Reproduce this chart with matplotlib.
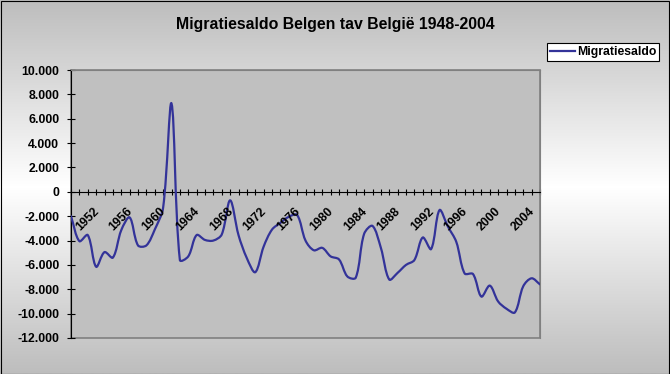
import matplotlib.pyplot as plt
import numpy as np
from matplotlib.path import Path
from matplotlib.patches import PathPatch, Rectangle
from matplotlib.lines import Line2D
from matplotlib.colors import LinearSegmentedColormap
from matplotlib.transforms import ScaledTranslation

plt.rcParams['font.family'] = ['Liberation Sans', 'DejaVu Sans']
plt.rcParams['font.weight'] = 'bold'

title = 'Migratiesaldo Belgen tav België 1948-2004'
series_name = 'Migratiesaldo'

# one value per year
years = list(range(1948, 2005))
saldo = [-2000, -4050, -3550, -6150, -4950, -5400, -3150, -2100, -4400, -4400,
         -3100, -1300, 7250, -5600, -5300, -3550, -3950, -4000, -3500, -700,
         -3550, -5450, -6600, -4500, -3100, -2550, -2050, -1900, -4000, -4800,
         -4600, -5300, -5550, -6950, -7050, -3450, -2800, -4600, -7200, -6650,
         -6000, -5600, -3750, -4700, -1500, -2850, -4100, -6700, -6750, -8600,
         -7700, -9000, -9600, -9900, -7750, -7100, -7600]

year_labels = ['1952', '1956', '1960', '1964', '1968', '1972', '1976',
               '1980', '1984', '1988', '1992', '1996', '2000', '2004']
y_ticks = [10000, 8000, 6000, 4000, 2000, 0, -2000, -4000, -6000, -8000,
           -10000, -12000]
y_tick_labels = ['10.000', '8.000', '6.000', '4.000', '2.000', '0', '-2.000',
                 '-4.000', '-6.000', '-8.000', '-10.000', '-12.000']

line_color = '#333399'
small = 8.8


def smooth_path(ax, x, y):
    # excel style smoothed line: bezier through every point, control
    # points weighted by the screen length of the neighbouring segments
    pts = ax.transData.transform(np.column_stack([x, y]))
    ext = np.vstack([pts[0], pts, pts[-1]])
    verts = [pts[0]]
    codes = [Path.MOVETO]
    for i in range(len(pts) - 1):
        p0, p1 = pts[i], pts[i + 1]
        lp = np.hypot(*(p0 - ext[i]))
        ln = np.hypot(*(ext[i + 2] - p0))
        c1 = p0 + (ext[i + 2] - ext[i]) * ln / (lp + ln) / 3
        lp = np.hypot(*(p1 - p0))
        ln = np.hypot(*(ext[i + 3] - p1))
        c2 = p1 - (ext[i + 3] - p0) * lp / (lp + ln) / 3
        verts += [c1, c2, p1]
        codes += [Path.CURVE4] * 3
    verts = ax.transData.inverted().transform(np.array(verts))
    return Path(verts, codes)


W, H = 670, 374
fig = plt.figure(figsize=(W / 100, H / 100), dpi=100)

# gray - white - gray background
bg = fig.add_axes([0, 0, 1, 1], zorder=-10)
bg.axis('off')
grad = np.abs(np.linspace(-1, 1, 256))[:, None]
cmap = LinearSegmentedColormap.from_list('bg', ['#ffffff', '#bdbdbd'])
bg.imshow(grad, cmap=cmap, aspect='auto', extent=(0, 1, 0, 1))
fig.patches.append(Rectangle((0.5 / W, 0.5 / H), 1 - 1.2 / W, 1 - 1.2 / H,
                             transform=fig.transFigure, fill=False,
                             ec='black', lw=0.8))

ax = fig.add_axes([71 / W, 36 / H, 469 / W, 268 / H])
ax.set_facecolor('#c0c0c0')
ax.set_xlim(years[0], years[-1])
ax.set_ylim(-12000, 10000)

ax.add_patch(PathPatch(smooth_path(ax, years, saldo), fill=False,
                       ec=line_color, lw=1.6, joinstyle='round',
                       capstyle='round', zorder=3))

# frame
ax.spines['top'].set_color('#808080')
ax.spines['right'].set_color('#808080')
ax.spines['left'].set_color('black')
ax.spines['bottom'].set_position(('data', 0))
ax.spines['bottom'].set_color('black')
for s in ax.spines.values():
    s.set_linewidth(0.8)
ax.add_patch(Rectangle((0, 0), 1, 1, transform=ax.transAxes, fill=False,
                       ec='#808080', lw=1.2, zorder=0.5, clip_on=False))

ax.set_yticks(y_ticks, y_tick_labels)
ax.tick_params(axis='y', direction='inout', length=5.8, width=0.8, pad=5.5,
               labelsize=small, colors='black')
ax.set_xticks(years, [''] * len(years))
ax.tick_params(axis='x', direction='inout', length=5, width=0.8)

# rotated year labels sit just below the zero line
offset = ScaledTranslation(-7.5 / 100, -17.5 / 100, fig.dpi_scale_trans)
for lab in year_labels:
    ax.text(int(lab), 0, lab, transform=ax.transData + offset, rotation=45,
            rotation_mode='anchor', ha='right', va='center', fontsize=small,
            fontweight='bold')

handle = Line2D([], [], color=line_color, lw=1.6)
leg = fig.legend([handle], [series_name], loc='upper left',
                 bbox_to_anchor=(547 / W, 1 - 43 / H),
                 bbox_transform=fig.transFigure, fancybox=False,
                 edgecolor='black', facecolor='white', framealpha=1,
                 borderpad=0.25, handlelength=2.0, handletextpad=0.2,
                 borderaxespad=0, prop={'size': small, 'weight': 'bold'})
leg.get_frame().set_linewidth(0.8)

fig.text(0.5, 1 - 25 / H, title, ha='center', va='center', fontsize=11.4,
         fontweight='bold')

fig.savefig('out.png', dpi=100)
